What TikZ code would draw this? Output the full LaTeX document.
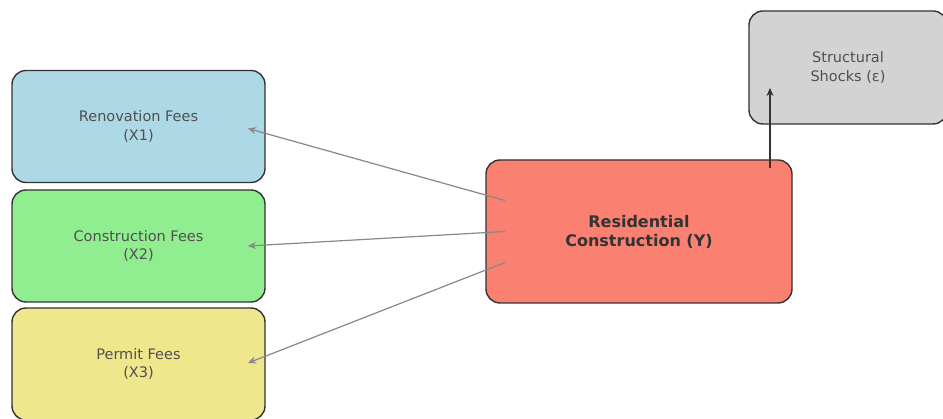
\documentclass[tikz,border=0pt]{standalone}
\usepackage{fontspec}
\setmainfont{DejaVu Sans}
\usetikzlibrary{arrows.meta}
\definecolor{boxblue}{HTML}{ADD8E6}
\definecolor{boxgreen}{HTML}{90EE90}
\definecolor{boxkhaki}{HTML}{F0E68C}
\definecolor{boxsalmon}{HTML}{FA8072}
\definecolor{boxgray}{HTML}{D3D3D3}
\definecolor{edgeline}{HTML}{333333}
\definecolor{labeltext}{HTML}{505050}
\definecolor{arrowgray}{HTML}{888888}
\tikzset{
  varbox/.style={draw=edgeline, line width=1.4pt, rounded corners=14pt,
    minimum width=253pt, minimum height=112pt, inner sep=0pt, outer sep=0pt,
    align=center, text=labeltext, font=\fontsize{14.5}{18.5}\selectfont},
  mainbox/.style={varbox, minimum width=306pt, minimum height=143pt,
    text=edgeline, font=\fontsize{16}{19}\selectfont\bfseries},
  shockbox/.style={varbox, minimum width=198pt, minimum height=113pt},
  grayarrow/.style={draw=arrowgray, line width=1.2pt,
    -{Stealth[length=8pt,width=7pt]}},
  blackarrow/.style={draw=edgeline, line width=1.4pt,
    -{Stealth[length=8pt,width=7pt]}}
}
\begin{document}
\begin{tikzpicture}[x=1pt,y=-1pt]
\useasboundingbox (0,0) rectangle (943,419);
\clip (0,0) rectangle (943,419);
\fill[white] (0,0) rectangle (943,419);

% explanatory variables on the left, outcome in the middle, shocks top right
\node[varbox, fill=boxblue]  (X1) at (138.5,126.5) {Renovation Fees\\(X1)};
\node[varbox, fill=boxgreen] (X2) at (138.5,246)   {Construction Fees\\(X2)};
\node[varbox, fill=boxkhaki] (X3) at (138.5,364)   {Permit Fees\\(X3)};
\node[mainbox, fill=boxsalmon] (Y) at (639,231.5) {Residential\\Construction (Y)};
\node[shockbox, fill=boxgray] (S) at (848,67.5) {Structural\\Shocks (ε)};

\draw[grayarrow] ([xshift=19pt,yshift=31pt]Y.west)  -- ([xshift=-17pt,yshift=-2pt]X1.east);
\draw[grayarrow] ([xshift=19pt]Y.west)              -- ([xshift=-17pt]X2.east);
\draw[grayarrow] ([xshift=19pt,yshift=-31pt]Y.west) -- ([xshift=-17pt,yshift=1pt]X3.east);
\draw[blackarrow] ([xshift=-22pt,yshift=-8pt]Y.north east) -- ([xshift=21pt,yshift=36pt]S.south west);
\end{tikzpicture}
\end{document}
